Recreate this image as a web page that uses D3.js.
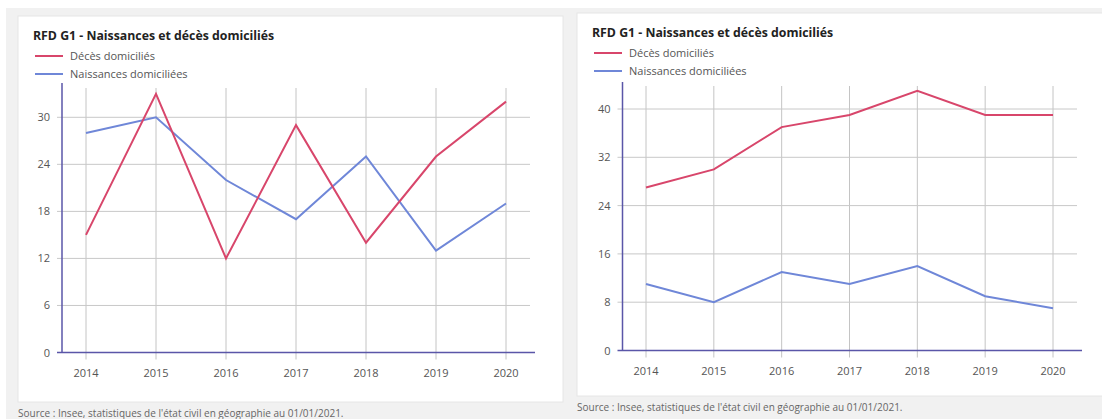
<!DOCTYPE html>
<html>
<head>
<meta charset="utf-8">
<script src="https://cdn.jsdelivr.net/npm/d3@7"></script>
<style>
  body { margin: 0; background: #fff; }
  text { font-family: "Open Sans", sans-serif; }
</style>
</head>
<body>
<div id="my_dataviz"></div>
<script>
// data
var years = [2014, 2015, 2016, 2017, 2018, 2019, 2020]
var deces_left = [15, 33, 12, 29, 14, 25, 32]
var naissances_left = [28, 30, 22, 17, 25, 13, 19]
var ticks_left = [0, 6, 12, 18, 24, 30]
var deces_right = [27, 30, 37, 39, 43, 39, 39]
var naissances_right = [11, 8, 13, 11, 14, 9, 7]
var ticks_right = [0, 8, 16, 24, 32, 40]

var title = "RFD G1 - Naissances et décès domiciliés"
var source = "Source : Insee, statistiques de l'état civil en géographie au 01/01/2021."
var red = "#d8466b"
var blue = "#6f87d8"
var axis_color = "#5a56a8"

var width = 1102
var height = 419

var svg = d3.select("#my_dataviz")
  .append("svg")
  .attr("width", width)
  .attr("height", height)

// grey container
svg.append("rect")
  .attr("x", 6).attr("y", 8)
  .attr("width", width - 6).attr("height", height - 8)
  .attr("fill", "#f1f1f1")

function draw_chart(opt) {
  var g = svg.append("g")

  // white panel
  g.append("rect")
    .attr("x", opt.px).attr("y", opt.py)
    .attr("width", opt.pw).attr("height", opt.ph)
    .attr("fill", "#fff")
    .attr("stroke", "#e6e6e6")

  g.append("text")
    .attr("x", opt.px + 15)
    .attr("y", opt.py + 24)
    .text(title)
    .attr("font-size", "12.3px")
    .attr("font-weight", 700)
    .attr("fill", "#222")

  // legend
  var legend = [["Décès domiciliés", red], ["Naissances domiciliées", blue]]
  legend.forEach(function(d, i) {
    var ly = opt.py + 40 + i * 18
    g.append("line")
      .attr("x1", opt.px + 17).attr("x2", opt.px + 45)
      .attr("y1", ly).attr("y2", ly)
      .attr("stroke", d[1]).attr("stroke-width", 2)
    g.append("text")
      .attr("x", opt.px + 52)
      .attr("y", ly + 4)
      .text(d[0])
      .attr("font-size", "11px")
      .attr("fill", "#555")
  })

  var x = d3.scalePoint()
    .domain(years)
    .range([opt.x0, opt.x1])

  var y = d3.scaleLinear()
    .domain([0, opt.ticks[opt.ticks.length - 1]])
    .range([opt.y0, opt.ytop])

  // vertical grid
  g.selectAll(".vgrid")
    .data(years)
    .enter()
    .append("line")
    .attr("x1", function(d) { return x(d) })
    .attr("x2", function(d) { return x(d) })
    .attr("y1", opt.gtop)
    .attr("y2", opt.y0 + 7)
    .attr("stroke", "#c4c4c4")

  // horizontal grid
  g.selectAll(".hgrid")
    .data(opt.ticks.slice(1))
    .enter()
    .append("line")
    .attr("x1", opt.ax - 5)
    .attr("x2", opt.gright)
    .attr("y1", function(d) { return y(d) })
    .attr("y2", function(d) { return y(d) })
    .attr("stroke", "#c8c8c8")

  // y labels
  g.selectAll(".ylab")
    .data(opt.ticks)
    .enter()
    .append("text")
    .attr("x", opt.ax - 12)
    .attr("y", function(d) { return y(d) + 4 })
    .attr("text-anchor", "end")
    .attr("font-size", "11px")
    .attr("fill", "#555")
    .text(function(d) { return d })

  // x labels
  g.selectAll(".xlab")
    .data(years)
    .enter()
    .append("text")
    .attr("x", function(d) { return x(d) })
    .attr("y", opt.y0 + 24)
    .attr("text-anchor", "middle")
    .attr("font-size", "11px")
    .attr("fill", "#555")
    .text(function(d) { return d })

  // axes
  g.append("line")
    .attr("x1", opt.ax - 5).attr("x2", opt.axright)
    .attr("y1", opt.y0).attr("y2", opt.y0)
    .attr("stroke", axis_color).attr("stroke-width", 1.5)
  g.append("line")
    .attr("x1", opt.ax).attr("x2", opt.ax)
    .attr("y1", opt.axtop).attr("y2", opt.y0)
    .attr("stroke", axis_color).attr("stroke-width", 1.5)

  var line = d3.line()
    .x(function(d, i) { return x(years[i]) })
    .y(function(d) { return y(d) })

  g.append("path")
    .datum(opt.naissances)
    .attr("d", line)
    .attr("fill", "none")
    .attr("stroke", blue)
    .attr("stroke-width", 2)

  g.append("path")
    .datum(opt.deces)
    .attr("d", line)
    .attr("fill", "none")
    .attr("stroke", red)
    .attr("stroke-width", 2)

  svg.append("text")
    .attr("x", opt.px)
    .attr("y", opt.py + opt.ph + 15)
    .text(source)
    .attr("font-size", "10px")
    .attr("fill", "#666")
}

draw_chart({
  px: 18, py: 16, pw: 545, ph: 386,
  x0: 86, x1: 506, y0: 352.5, ytop: 117.3, ax: 62, axtop: 83, axright: 535,
  gtop: 88, gright: 530,
  ticks: ticks_left, deces: deces_left, naissances: naissances_left
})

draw_chart({
  px: 577, py: 13, pw: 530, ph: 383,
  x0: 646, x1: 1053, y0: 350.5, ytop: 109, ax: 622.5, axtop: 82, axright: 1082,
  gtop: 86, gright: 1077,
  ticks: ticks_right, deces: deces_right, naissances: naissances_right
})
</script>
</body>
</html>
